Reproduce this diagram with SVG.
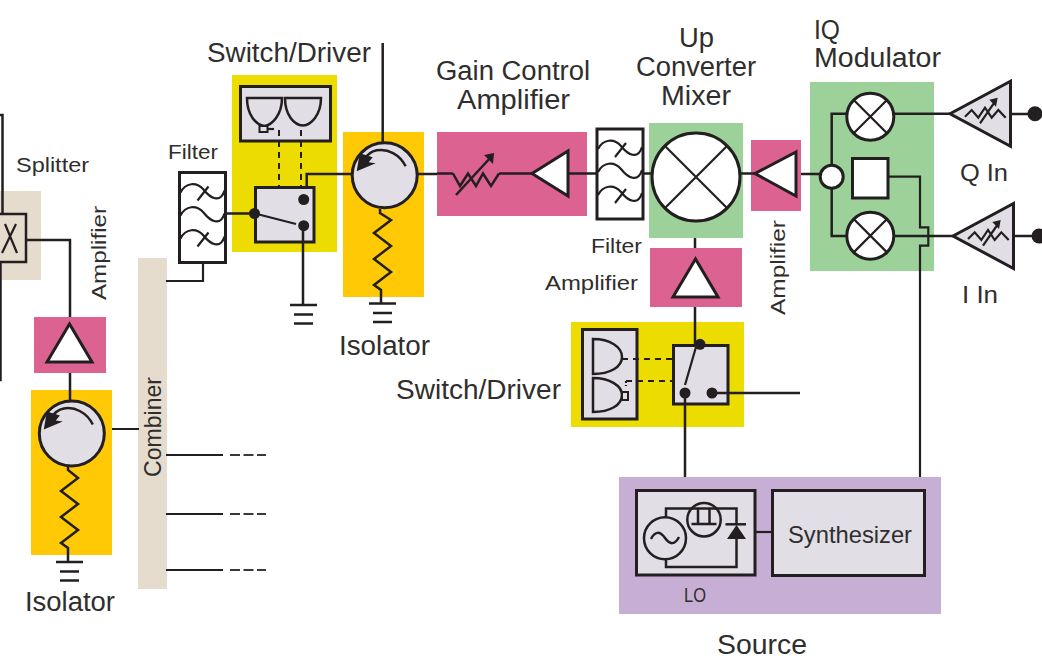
<svg xmlns="http://www.w3.org/2000/svg" xmlns:xlink="http://www.w3.org/1999/xlink" width="1042" height="660" viewBox="0 0 1042 660">
<style>
text{font-family:"Liberation Sans",Arial,sans-serif;fill:#2f2e2d;font-size:27px}
.s{font-size:21px}
.m{font-size:24px}
.tan{fill:#e6dccd}.pink{fill:#dc6291}.yel{fill:#eddc00}.org{fill:#ffc905}.grn{fill:#9cd19a}.pur{fill:#c6aed4}
.k{fill:none;stroke:#231f20;stroke-width:2.5;stroke-linejoin:miter}
.t{fill:none;stroke:#231f20;stroke-width:2.2}
.w{fill:#fff;stroke:#231f20;stroke-width:3}
.g{fill:#e1dee6;stroke:#231f20;stroke-width:3}
.d{fill:#231f20}
.dash{fill:none;stroke:#231f20;stroke-width:2;stroke-dasharray:6 5}
.far{fill:none;stroke:#3a3938;stroke-width:2;stroke-dasharray:10 3.500}
</style>
<defs>
<g id="filt">
<rect class="w" x="0" y="0" width="46" height="90"/>
<path class="t" d="M1 20C6 10 17 9 24 17C31 26 41 31 45 18"/>
<path class="t" d="M1 43C6 33 17 32 24 40C31 49 41 54 45 41"/>
<path class="t" d="M1 66C6 56 17 55 24 63C31 72 41 77 45 64"/>
<path class="t" d="M18 28L29 14M18 74L29 60"/>
</g>
<g id="iso">
<circle class="g" cx="0" cy="0" r="32.500"/>
<path class="k" d="M21-9C15-21 3-27-8-25C-14-24-18-20-21-15"/>
<path class="d" d="M-25-22L-28-4L-9-12L-16-13L-12-18Z"/>
</g>
<g id="gnd"><path class="k" d="M-13.500 0H13.500M-9.500 9.500H9.500M-9.500 18.500H9.500"/></g>
<g id="vga">
<path class="g" d="M0 0L60.500-32.500V32.500Z"/>
<path class="t" d="M15 3L21.700-3.700L28.300 4L35-6L41.700 4L48.300-3.700L55.700 4M30 9.600L45-12"/>
<path class="d" d="M39.300-14L47.700-16L46-7Z"/>
</g>
</defs>

<g id="splitter">
<rect class="tan" x="0" y="191" width="41" height="89"/>
<path class="k" d="M-2 214H26V262H-2"/>
<path class="t" d="M16 224L2 253M5 224L17 253"/>
<text x="16" y="172" class="s" textLength="73" lengthAdjust="spacingAndGlyphs">Splitter</text>
</g>
<g id="amplifier-1">
<rect class="pink" x="34" y="317" width="72" height="56"/>
<path class="w" d="M69.500 324L47 362H92Z"/>
<text transform="translate(106 300) rotate(-90)" class="s" textLength="94" lengthAdjust="spacingAndGlyphs">Amplifier</text>
</g>
<g id="isolator-1">
<rect class="org" x="31" y="390" width="81" height="165"/>
<use xlink:href="#iso" href="#iso" transform="translate(71.800 433.500)"/>
<path class="k" d="M68 467V470L78 478L61 491L78 504L61 517L78 530L61 543L68 548V562"/>
<use xlink:href="#gnd" href="#gnd" transform="translate(69.500 562)"/>
<text x="25" y="611" textLength="90" lengthAdjust="spacingAndGlyphs">Isolator</text>
</g>
<g id="combiner">
<rect class="tan" x="138" y="258" width="29" height="331"/>
<text transform="translate(160.500 477) rotate(-90)" class="m" textLength="100" lengthAdjust="spacingAndGlyphs">Combiner</text>
</g>
<g id="filter-1">
<use xlink:href="#filt" href="#filt" transform="translate(179.500 172.500)"/>
<text x="168" y="159" class="s" textLength="50" lengthAdjust="spacingAndGlyphs">Filter</text>
</g>
<g id="switch-driver-1">
<rect class="yel" x="232" y="75" width="105" height="177"/>
<rect class="g" x="240.500" y="86.500" width="90" height="54.500"/>
<path class="k" d="M247 98H282C282 115 272 125 264.500 126C256 125 247 115 247 98ZM285 98H321C321 115 311 125 303 125.500C294 125 285 115 285 98Z"/>
<rect x="259.500" y="126" width="8" height="6" fill="#e1dee6" stroke="#231f20" stroke-width="2"/>
<path class="t" d="M268 129H274"/>
<rect class="g" x="255.500" y="187.500" width="58.500" height="54.500"/>
<circle class="d" cx="254.500" cy="213.500" r="5.500"/>
<circle class="d" cx="303.700" cy="199.500" r="5.500"/>
<circle class="d" cx="303.700" cy="225.700" r="5.500"/>
<path class="t" d="M255 213.500L296 224"/>
<use xlink:href="#gnd" href="#gnd" transform="translate(303.500 305)"/>
<text x="207" y="62" textLength="164" lengthAdjust="spacingAndGlyphs">Switch/Driver</text>
</g>
<g id="isolator-2">
<rect class="org" x="343" y="132" width="81" height="165"/>
<use xlink:href="#iso" href="#iso" transform="translate(384.700 175.300)"/>
<path class="k" d="M380 209V213L391 220L374 233L391 246L374 259L391 272L374 285L381 290V303"/>
<use xlink:href="#gnd" href="#gnd" transform="translate(382.500 303.500)"/>
<text x="339" y="355" textLength="91" lengthAdjust="spacingAndGlyphs">Isolator</text>
</g>
<g id="gain-control-amplifier">
<rect class="pink" x="437" y="132" width="150" height="84"/>
<path class="k" d="M453 173.500L460 186L468 173.500L476 186L483 173.500L491 186L499 173.500"/>
<path class="k" d="M456 195L491 157"/>
<path class="d" d="M484 155L494 153L493 164Z"/>
<path class="w" d="M532 173.500L568 151V196Z"/>
<text x="436" y="80" textLength="154" lengthAdjust="spacingAndGlyphs">Gain Control</text>
<text x="457" y="109" textLength="113" lengthAdjust="spacingAndGlyphs">Amplifier</text>
</g>
<g id="filter-2">
<use xlink:href="#filt" href="#filt" transform="translate(597 129)"/>
<text x="591" y="253" class="s" textLength="51" lengthAdjust="spacingAndGlyphs">Filter</text>
</g>
<g id="up-converter-mixer">
<rect class="grn" x="649" y="123" width="94" height="115"/>
<circle class="w" cx="696" cy="177" r="44"/>
<path class="t" d="M665 146L727 208M727 146L665 208"/>
<text x="679" y="47" textLength="35" lengthAdjust="spacingAndGlyphs">Up</text>
<text x="636" y="76" textLength="120" lengthAdjust="spacingAndGlyphs">Converter</text>
<text x="661" y="105" textLength="70" lengthAdjust="spacingAndGlyphs">Mixer</text>
</g>
<g id="amplifier-2">
<rect class="pink" x="751" y="140" width="50" height="71"/>
<path class="w" d="M755 173.500L796 152V196Z"/>
<text transform="translate(785 315) rotate(-90)" class="s" textLength="95" lengthAdjust="spacingAndGlyphs">Amplifier</text>
</g>
<g id="amplifier-3">
<rect class="pink" x="650" y="248" width="92" height="59"/>
<path class="w" d="M695.500 259L673 297H718Z"/>
<text x="545" y="290" class="s" textLength="93" lengthAdjust="spacingAndGlyphs">Amplifier</text>
</g>
<g id="switch-driver-2">
<rect class="yel" x="571" y="322" width="173" height="105"/>
<rect class="g" x="582.500" y="329.500" width="54.500" height="89.500"/>
<path class="k" d="M593 339C610 339 622 347 622 357C622 367 610 374 593 374ZM593 378C610 378 622 386 622 395C622 405 610 412 593 412Z"/>
<rect x="622" y="392" width="6" height="8" fill="#e1dee6" stroke="#231f20" stroke-width="2"/>
<rect class="g" x="673.500" y="345.500" width="54.500" height="58.500"/>
<circle class="d" cx="700" cy="344.300" r="5.500"/>
<circle class="d" cx="685" cy="393" r="5.500"/>
<circle class="d" cx="712" cy="393" r="5.500"/>
<path class="t" d="M696 347L685 385"/>
<text x="396" y="399" textLength="165" lengthAdjust="spacingAndGlyphs">Switch/Driver</text>
</g>
<g id="iq-modulator">
<rect class="grn" x="810" y="82" width="124" height="189"/>
<circle class="w" cx="870.300" cy="116.700" r="23.500"/>
<path class="t" d="M853.700 100L887 133.300M887 100L853.700 133.300"/>
<circle class="w" cx="870.300" cy="235.700" r="23.500"/>
<path class="t" d="M853.700 219L887 252.400M887 219L853.700 252.400"/>
<circle class="w" cx="831.700" cy="176.700" r="11.500"/>
<rect class="w" x="852.500" y="158.500" width="35.500" height="39.500"/>
<text x="814" y="39" textLength="26" lengthAdjust="spacingAndGlyphs">IQ</text>
<text x="814" y="67" textLength="127" lengthAdjust="spacingAndGlyphs">Modulator</text>
</g>
<g id="q-in">
<use xlink:href="#vga" href="#vga" transform="translate(950 113.700)"/>
<circle class="d" cx="1035" cy="113.700" r="7.500"/>
<text x="960" y="181" class="m" textLength="48" lengthAdjust="spacingAndGlyphs">Q In</text>
</g>
<g id="i-in">
<use xlink:href="#vga" href="#vga" transform="translate(953 236)"/>
<circle class="d" cx="1039" cy="236" r="7.500"/>
<text x="962" y="303" class="m" textLength="36" lengthAdjust="spacingAndGlyphs">I In</text>
</g>
<g id="source">
<rect class="pur" x="619" y="477" width="322" height="137"/>
<text x="717" y="654" textLength="90" lengthAdjust="spacingAndGlyphs">Source</text>
</g>
<g id="lo">
<rect class="g" x="636.500" y="490.500" width="118.500" height="84.500"/>
<circle cx="665" cy="538.300" r="21" fill="none" stroke="#231f20" stroke-width="2.500"/>
<path class="k" d="M651 539C655 531 660 531 665 538C670 545 675 545 679 537"/>
<circle cx="704" cy="519.700" r="16.700" fill="none" stroke="#231f20" stroke-width="2.500"/>
<path class="k" d="M666 517V508.500H736.500V525M736.500 539V567H666V559.500M691.500 524H716.500M698 524V509M709.500 524V509"/>
<path class="k" d="M725.500 524.300H746"/>
<path class="d" d="M736.500 525L727 539H746Z"/>
<text x="684" y="602" class="s" textLength="22" lengthAdjust="spacingAndGlyphs">LO</text>
</g>
<g id="synthesizer">
<rect class="g" x="772.500" y="490.500" width="152" height="85"/>
<text x="788" y="543" class="m" textLength="124" lengthAdjust="spacingAndGlyphs">Synthesizer</text>
</g>

<g id="connectors">
<path class="k" d="M-2 115H2.500V214M0.500 262V380H-2M26 240H70V317M70 373V401"/>
<path class="t" d="M112 429H139M166 281H203V263"/>
<path class="t" d="M166 455H223M166 514H223M166 570H223"/>
<path class="far" d="M230 455H266M230 514H266M230 570H266"/>
<path class="k" d="M227 213.500H255M303 226V305M306.700 187V174H352M382.700 43V143M418 174H437"/>
<path class="k" d="M437 173.500H453M499 173.500H532M568 173.500H597M642 173.500H652M740 173.500H755M801 174H820"/>
<path class="dash" d="M279 130V187M301 130V187M622 359H673M626 381H673"/>
<path class="t" d="M626 381V386" stroke-dasharray="2 2"/>
<path class="k" d="M695 238V248M695 307V344M685 398V477M717 393H800"/>
<path class="t" d="M755 532H772"/>
<path class="k" d="M831.700 165V113.700H847M831.700 188V236H847M894 113.700H950M894 236H953M1010 114H1030M1013 236H1033"/>
<path class="t" d="M888 176.700H920V227.300H928.300V245.700H920V477"/>
</g>
</svg>
